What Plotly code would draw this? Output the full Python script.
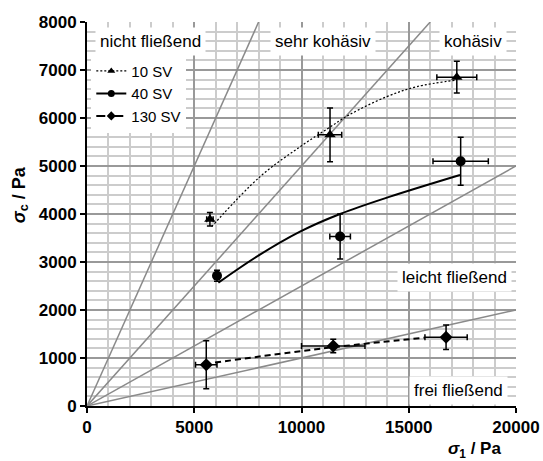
import plotly.graph_objects as go

# ---- data ----
sv10_x = [5730, 11330, 17240]
sv10_y = [3890, 5650, 6850]
sv10_ex = [150, 545, 930]
sv10_ey = [140, 560, 330]

sv40_x = [6060, 11800, 17420]
sv40_y = [2715, 3530, 5100]
sv40_ex = [60, 480, 1290]
sv40_ey = [115, 470, 500]

sv130_x = [5560, 11480, 16740]
sv130_y = [860, 1250, 1430]
sv130_ex = [500, 1480, 985]
sv130_ey = [500, 140, 255]

# fitted curves
fit10_x = [5810, 8065, 9930, 11329, 12200, 13972, 15370, 17235]
fit10_y = [3735, 4777, 5400, 5810, 6060, 6444, 6652, 6790]
fit40_x = [6123, 7910, 9930, 11795, 14126, 17389]
fit40_y = [2569, 3111, 3632, 4000, 4361, 4812]
fit130_x = [5967, 11000, 15758]
fit130_y = [905, 1200, 1424]

# flow function boundaries ffc = sigma1 / sigma_c
ffc_values = [1, 2, 4, 10]
x_max, y_max = 20000, 8000

region_labels = ["nicht fließend", "sehr kohäsiv", "kohäsiv", "leicht fließend", "frei fließend"]
region_x = [2937, 11000, 17995, 17110, 17320]
region_y = [7604, 7604, 7604, 2673, 333]

FONT = "Liberation Sans, Arial, sans-serif"

fig = go.Figure()

for f in ffc_values:
    xe = min(x_max, y_max * f)
    fig.add_trace(go.Scatter(x=[0, xe], y=[0, xe / f], mode="lines",
                             line=dict(color="#8a8a8a", width=1.5),
                             showlegend=False, hoverinfo="skip"))

# fit lines
fig.add_trace(go.Scatter(x=fit10_x, y=fit10_y, mode="lines", line_shape="spline",
                         line=dict(color="black", width=1.2, dash="2px,2px"),
                         showlegend=False, hoverinfo="skip"))
fig.add_trace(go.Scatter(x=fit40_x, y=fit40_y, mode="lines", line_shape="spline",
                         line=dict(color="black", width=2),
                         showlegend=False, hoverinfo="skip"))
fig.add_trace(go.Scatter(x=fit130_x, y=fit130_y, mode="lines", line_shape="spline",
                         line=dict(color="black", width=2, dash="6px,4px"),
                         showlegend=False, hoverinfo="skip"))

eb = dict(type="data", thickness=1.5, width=3, color="black")

fig.add_trace(go.Scatter(
    x=sv10_x, y=sv10_y, mode="markers", name="10 SV", showlegend=False,
    marker=dict(symbol="triangle-up", size=10, color="black"),
    error_x=dict(array=sv10_ex, **eb), error_y=dict(array=sv10_ey, **eb)))
fig.add_trace(go.Scatter(
    x=sv40_x, y=sv40_y, mode="markers", name="40 SV", showlegend=False,
    marker=dict(symbol="circle", size=10, color="black"),
    error_x=dict(array=sv40_ex, **eb), error_y=dict(array=sv40_ey, **eb)))
fig.add_trace(go.Scatter(
    x=sv130_x, y=sv130_y, mode="markers", name="130 SV", showlegend=False,
    marker=dict(symbol="diamond", size=10, color="black"),
    error_x=dict(array=sv130_ex, **eb), error_y=dict(array=sv130_ey, **eb)))

# legend-only entries showing line + marker
fig.add_trace(go.Scatter(x=[None], y=[None], mode="lines+markers", name="10 SV",
                         line=dict(color="black", width=1.2, dash="2px,2px"),
                         marker=dict(symbol="triangle-up", size=7, color="black")))
fig.add_trace(go.Scatter(x=[None], y=[None], mode="lines+markers", name="40 SV",
                         line=dict(color="black", width=2),
                         marker=dict(symbol="circle", size=7, color="black")))
fig.add_trace(go.Scatter(x=[None], y=[None], mode="lines+markers", name="130 SV",
                         line=dict(color="black", width=2, dash="dash"),
                         marker=dict(symbol="diamond", size=7, color="black")))

for t, xx, yy in zip(region_labels, region_x, region_y):
    fig.add_annotation(x=xx, y=yy, xref="x", yref="y", text=t, showarrow=False,
                       font=dict(family=FONT, size=17, color="black"),
                       bgcolor="white", borderpad=4)

# axis titles
fig.add_annotation(x=0.97, y=-0.115, xref="paper", yref="paper", xanchor="right", yanchor="middle",
                   text="<b><i>σ</i><sub>1</sub> / Pa</b>", showarrow=False,
                   font=dict(family=FONT, size=17, color="black"))
fig.add_annotation(x=-0.155, y=0.55, xref="paper", yref="paper", xanchor="center", yanchor="middle",
                   text="<b><i>σ</i><sub>c</sub> / Pa</b>", showarrow=False, textangle=-90,
                   font=dict(family=FONT, size=18, color="black"))

axis_common = dict(
    showline=True, linecolor="black", linewidth=2,
    ticks="outside", ticklen=5, tickwidth=1.5, tickcolor="black",
    tickfont=dict(family=FONT, size=17, color="black", weight="bold"),
    tickformat="d",
    showgrid=True, gridcolor="#999999", gridwidth=1.5,
    zeroline=False, automargin=False,
)

fig.update_xaxes(range=[0, x_max], dtick=5000, tick0=0,
                 minor=dict(dtick=1000, showgrid=True, gridcolor="#cccccc", gridwidth=1.5, ticks=""),
                 **axis_common)
fig.update_yaxes(range=[0, y_max], dtick=1000, tick0=0,
                 minor=dict(dtick=200, showgrid=True, gridcolor="#cccccc", gridwidth=1.5, ticks=""),
                 **axis_common)

fig.update_layout(
    width=543, height=461,
    margin=dict(l=87, r=27, t=22, b=55),
    paper_bgcolor="white", plot_bgcolor="white",
    font=dict(family=FONT, color="black"),
    showlegend=True,
    legend=dict(x=0.01, y=0.915, xanchor="left", yanchor="top",
                bgcolor="white", borderwidth=0,
                font=dict(family=FONT, size=15, color="black"),
                itemwidth=30, tracegroupgap=0),
)

fig.write_html("out.html")
